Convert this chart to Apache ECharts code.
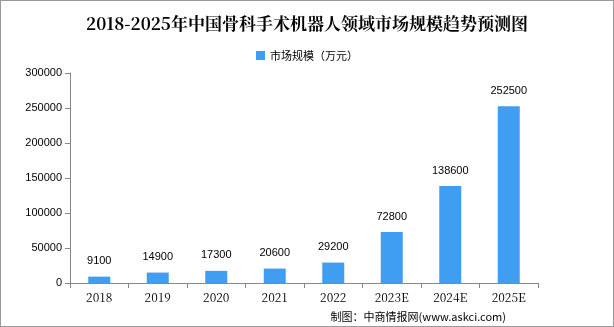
<!DOCTYPE html>
<html><head><meta charset="utf-8">
<script src="https://cdn.jsdelivr.net/npm/echarts@6/dist/echarts.min.js"></script>
<style>html,body{margin:0;padding:0;background:#fff}#c{width:612px;height:325px;border:1px solid #999}</style>
</head><body><div id="c"></div>
<script>
const categories = ['2018','2019','2020','2021','2022','2023E','2024E','2025E'];
const values = [9100,14900,17300,20600,29200,72800,138600,252500];
const seriesName = '市场规模（万元）';
const titleText = '2018-2025年中国骨科手术机器人领域市场规模趋势预测图';
const sourceText = '制图：中商情报网(www.askci.com)';
const chart = echarts.init(document.getElementById('c'));
chart.setOption({
  animation:false,
  title:{text:titleText,left:'center',top:9,textStyle:{fontFamily:'"Noto Serif CJK SC","Noto Sans CJK SC",serif',fontSize:17,fontWeight:'bold',color:'#000'}},
  legend:{data:[seriesName],top:44,left:'center',itemWidth:9,itemHeight:9,icon:'rect',itemGap:4,textStyle:{fontFamily:'"Noto Sans CJK SC",sans-serif',fontSize:11,color:'#000'}},
  grid:{left:69,right:75,top:72,bottom:43},
  xAxis:{type:'category',data:categories,
    axisLine:{lineStyle:{color:'#888'}},
    axisTick:{show:true,alignWithLabel:false,length:5,lineStyle:{color:'#888'}},
    axisLabel:{color:'#000',fontFamily:'"Noto Serif CJK SC",serif',fontSize:12,margin:8}},
  yAxis:{type:'value',min:0,max:300000,interval:50000,
    axisLine:{show:true,lineStyle:{color:'#888'}},
    axisTick:{show:true,length:5,lineStyle:{color:'#888'}},
    splitLine:{show:false},
    axisLabel:{color:'#000',fontFamily:'Arial,"Liberation Sans",sans-serif',fontSize:11,margin:8,formatter:function(v){return String(v);}}},
  graphic:[{type:'text',right:107,bottom:4,style:{text:sourceText,fontSize:11,fill:'#000',fontFamily:'"Noto Sans CJK SC",sans-serif'}}],
  series:[{name:seriesName,type:'bar',data:values,barWidth:22,
    itemStyle:{color:'#3f9ef2'},
    label:{show:true,position:'top',distance:10,color:'#000',fontSize:11,fontFamily:'Arial,"Liberation Sans",sans-serif'}}]
});
</script></body></html>
